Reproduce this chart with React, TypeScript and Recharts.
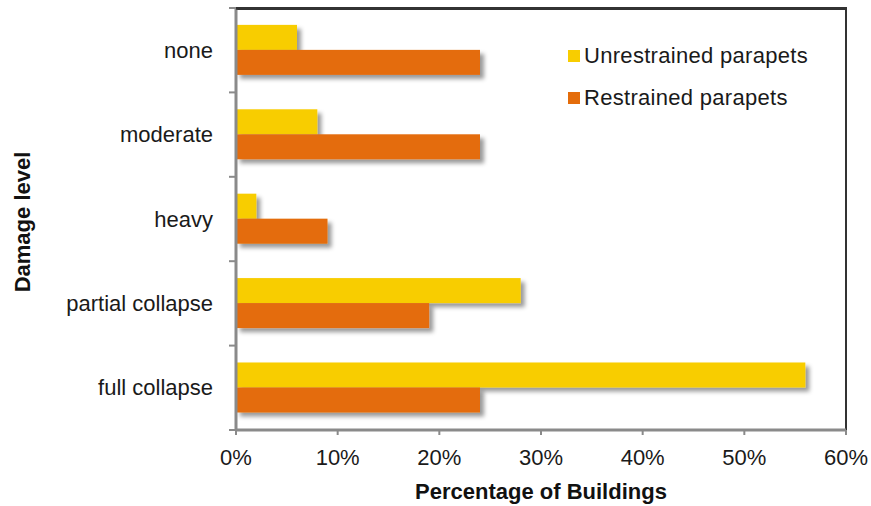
import React from 'react';
import { BarChart, Bar, XAxis, YAxis, Legend, ReferenceArea, CartesianGrid } from 'recharts';

const damageLevels = ['none', 'moderate', 'heavy', 'partial collapse', 'full collapse'];
const unrestrained = [6, 8, 2, 28, 56];
const restrained = [24, 24, 9, 19, 24];
const percentTicks = [0, 10, 20, 30, 40, 50, 60];

const seriesNames = { unrestrained: 'Unrestrained parapets', restrained: 'Restrained parapets' };
const YELLOW = '#F8CD00';
const ORANGE = '#E46C0A';
const AXIS_GRAY = '#8a8a8a';
const FRAME = '#333333';
const FONT = '"Liberation Sans", Arial, sans-serif';
const CHART_W = 871;
const CHART_H = 506;
const MARGIN = { top: 8, right: 25, bottom: 0, left: 0 };
const Y_TICK_LEN = 7;
const Y_TICK_GAP = 16;

const data = damageLevels.map((level, i) => ({
  level,
  unrestrained: unrestrained[i],
  restrained: restrained[i],
}));

// bar with a soft drop shadow, like the old office charts
const ShadowBar = (props: any) => {
  const { x, y, width, height, fill } = props;
  if (!width || width <= 0) return null;
  return <rect x={x} y={y} width={width} height={height} fill={fill} filter="url(#barShadow)" />;
};

// label at the band centre, tick marks on the band edges (excel style)
// the first tick also carries the top edge of the plot frame
const CategoryTick = (props: any) => {
  const { x, y, payload, index, visibleTicksCount } = props;
  const half = payload.offset || 0;
  const lineX = x + Y_TICK_GAP + Y_TICK_LEN;
  const isLast = index === visibleTicksCount - 1;
  const plotRight = CHART_W - MARGIN.right;
  return (
    <g>
      {index === 0 && <line x1={lineX} x2={plotRight} y1={y - half + 0.5} y2={y - half + 0.5} stroke={FRAME} strokeWidth={2.5} />}
      <line x1={lineX - Y_TICK_LEN} x2={lineX} y1={y - half} y2={y - half} stroke={AXIS_GRAY} strokeWidth={2} />
      {isLast && <line x1={lineX - Y_TICK_LEN} x2={lineX} y1={y + half} y2={y + half} stroke={AXIS_GRAY} strokeWidth={2} />}
      <text x={x} y={y} textAnchor="end" dominantBaseline="central" fontFamily={FONT} fontSize={22} fill="#1a1a1a">
        {payload.value}
      </text>
    </g>
  );
};

const YTitle = (props: any) => {
  const vb = props.viewBox;
  const cx = vb.x + 22;
  const cy = vb.y + vb.height / 2 + 3;
  return (
    <text x={cx} y={cy} transform={`rotate(-90 ${cx} ${cy})`} textAnchor="middle" dominantBaseline="central"
      fontFamily={FONT} fontSize={22} fontWeight="bold" fill="#111">
      Damage level
    </text>
  );
};

const XTitle = (props: any) => {
  const vb = props.viewBox;
  return (
    <text x={vb.x + vb.width / 2} y={vb.y + 69} textAnchor="middle"
      fontFamily={FONT} fontSize={22} fontWeight="bold" fill="#111">
      Percentage of Buildings
    </text>
  );
};

const LegendBox = () => {
  const items = [
    { name: seriesNames.unrestrained, color: YELLOW },
    { name: seriesNames.restrained, color: ORANGE },
  ];
  return (
    <div style={{ fontFamily: FONT, fontSize: 22, color: '#1a1a1a', letterSpacing: 0.3 }}>
      {items.map((it) => (
        <div key={it.name} style={{ display: 'flex', alignItems: 'center', height: 42 }}>
          <span style={{ display: 'inline-block', width: 12, height: 12, background: it.color, marginRight: 4 }} />
          <span>{it.name}</span>
        </div>
      ))}
    </div>
  );
};

export default function App() {
  return (
    <div style={{ position: 'absolute', left: 0, top: 0, width: CHART_W, height: CHART_H, background: '#fff' }}>
      <BarChart
        width={CHART_W}
        height={CHART_H}
        data={data}
        layout="vertical"
        margin={MARGIN}
        barCategoryGap="20%"
        barGap={0}
      >
        <defs>
          <filter id="barShadow" x="-20%" y="-50%" width="160%" height="200%">
            <feDropShadow dx="4" dy="4" stdDeviation="2" floodColor="#000" floodOpacity="0.4" />
          </filter>
        </defs>
        {/* top edge of the frame */}
        <CartesianGrid vertical={false} horizontalPoints={[MARGIN.top + 1]} stroke={FRAME} strokeWidth={2} />
        {/* plot frame (left/bottom get covered by the gray axes) */}
        <ReferenceArea x1={0} x2={60} fill="none" fillOpacity={0} stroke={FRAME} strokeWidth={2} ifOverflow="visible" />
        <XAxis
          type="number"
          domain={[0, 60]}
          ticks={percentTicks}
          tickFormatter={(v) => `${v}%`}
          height={76}
          axisLine={{ stroke: AXIS_GRAY, strokeWidth: 3 }}
          tickLine={{ stroke: AXIS_GRAY, strokeWidth: 2 }}
          tickSize={5}
          tickMargin={14}
          tick={{ fill: '#1a1a1a', fontSize: 22, fontFamily: FONT }}
          label={<XTitle />}
        />
        <YAxis
          type="category"
          dataKey="level"
          width={236}
          axisLine={{ stroke: AXIS_GRAY, strokeWidth: 3 }}
          tickLine={false}
          tickSize={Y_TICK_LEN}
          tickMargin={Y_TICK_GAP}
          tick={<CategoryTick />}
          label={<YTitle />}
        />
        <Legend
          layout="vertical"
          verticalAlign="middle"
          align="center"
          wrapperStyle={{ left: 568, top: 35, width: 290 }}
          content={<LegendBox />}
        />
        <Bar dataKey="unrestrained" name={seriesNames.unrestrained} fill={YELLOW} shape={<ShadowBar />} isAnimationActive={false} />
        <Bar dataKey="restrained" name={seriesNames.restrained} fill={ORANGE} shape={<ShadowBar />} isAnimationActive={false} />
      </BarChart>
    </div>
  );
}
